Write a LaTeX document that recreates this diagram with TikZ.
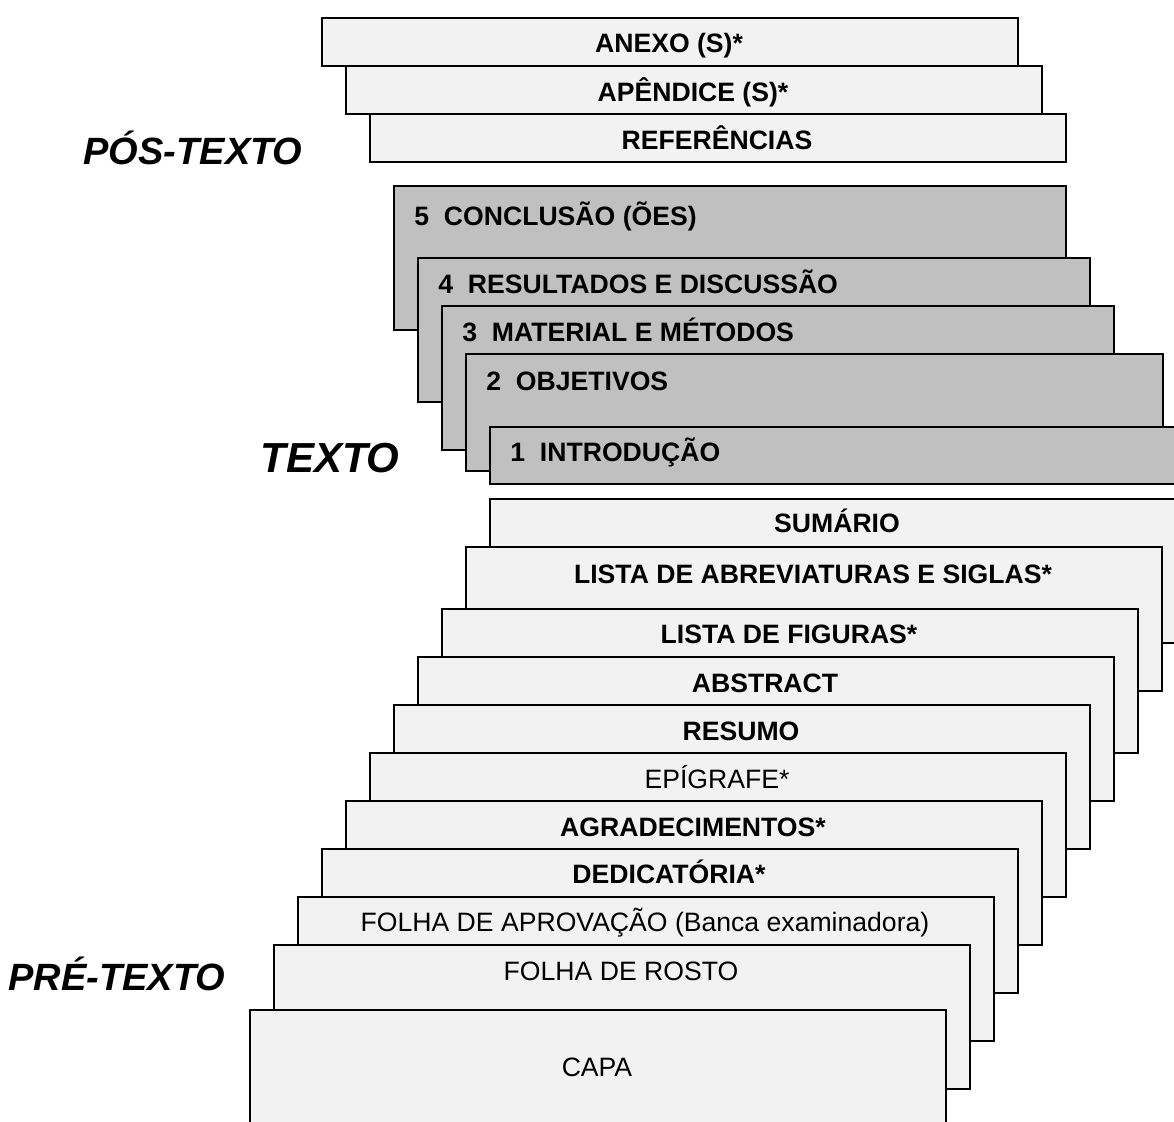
\documentclass[tikz,border=0pt]{standalone}
\usepackage{fontspec}
\setmainfont{Liberation Sans}
\definecolor{pagegray}{HTML}{F2F2F2}
\definecolor{chaptergray}{HTML}{C0C0C0}
\begin{document}
\begin{tikzpicture}[x=0.5pt, y=-0.5pt,
  page/.style={draw=black, line width=1pt, fill=pagegray, anchor=north west, inner sep=0pt, minimum width=348pt, minimum height=72pt},
  shortpage/.style={page, minimum height=24pt},
  chapter/.style={page, fill=chaptergray, minimum width=336pt},
  title/.style={font=\fontsize{13.3}{16}\selectfont\bfseries, inner sep=0pt, anchor=base},
  plaintitle/.style={title, font=\fontsize{13.3}{16}\selectfont},
  chaptitle/.style={title, anchor=base west},
  part/.style={font=\fontsize{19}{22}\selectfont\bfseries\itshape, inner sep=0pt, anchor=base}]
\useasboundingbox (0,0) rectangle (1174,1122);
\clip (0,0) rectangle (1174,1122);
% pos-texto
\node[shortpage] (anexo) at (321,17) {};
\node[title] at (669,53) {ANEXO (S)*};
\node[shortpage] (apendice) at (345,65) {};
\node[title] at (693,102) {APÊNDICE (S)*};
\node[shortpage] (referencias) at (369,113) {};
\node[title] at (717,150) {REFERÊNCIAS};
% texto
\node[chapter] (conclusao) at (393,185) {};
\node[chaptitle] at (414,226) {5\ \ CONCLUSÃO (ÕES)};
\node[chapter] (resultados) at (417,257) {};
\node[chaptitle] at (438,294) {4\ \ RESULTADOS E DISCUSSÃO};
\node[chapter] (material) at (441,305) {};
\node[chaptitle] at (462,342) {3\ \ MATERIAL E MÉTODOS};
\node[chapter, minimum width=348.5pt, minimum height=58.5pt] (objetivos) at (465,353) {};
\node[chaptitle] at (486,391) {2\ \ OBJETIVOS};
\node[chapter, minimum width=348.5pt, minimum height=28.5pt] (introducao) at (489,426) {};
\node[chaptitle] at (510,462) {1\ \ INTRODUÇÃO};
% pre-texto
\node[page] (sumario) at (489,498) {};
\node[title] at (837,533) {SUMÁRIO};
\node[page] (abreviaturas) at (465,546) {};
\node[title] at (813,584) {LISTA DE ABREVIATURAS E SIGLAS*};
\node[page] (figuras) at (441,608) {};
\node[title] at (789,644) {LISTA DE FIGURAS*};
\node[page] (abstract) at (417,656) {};
\node[title] at (765,693) {ABSTRACT};
\node[page] (resumo) at (393,704) {};
\node[title] at (741,741) {RESUMO};
\node[page] (epigrafe) at (369,752) {};
\node[plaintitle] at (717,789) {EPÍGRAFE*};
\node[page] (agradecimentos) at (345,800) {};
\node[title] at (693,837) {AGRADECIMENTOS*};
\node[page] (dedicatoria) at (321,848) {};
\node[title] at (669,884) {DEDICATÓRIA*};
\node[page] (aprovacao) at (297,896) {};
\node[plaintitle] at (645,932) {FOLHA DE APROVAÇÃO (Banca examinadora)};
\node[page] (rosto) at (273,944) {};
\node[plaintitle] at (621,980) {FOLHA DE ROSTO};
\node[page] (capa) at (249,1009) {};
\node[plaintitle] at (597,1076) {CAPA};
% partes
\node[part] (postexto) at (193,165) {PÓS-TEXTO};
\node[part, font=\fontsize{21}{24}\selectfont\bfseries\itshape] (texto) at (330,473) {TEXTO};
\node[part] (pretexto) at (117,991) {PRÉ-TEXTO};
\end{tikzpicture}
\end{document}
